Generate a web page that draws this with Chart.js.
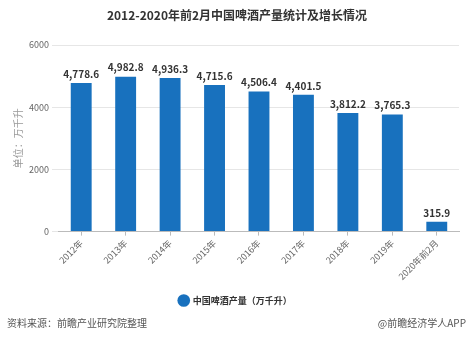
<!DOCTYPE html>
<html>
<head>
<meta charset="utf-8">
<script src="https://cdn.jsdelivr.net/npm/chart.js@4/dist/chart.umd.min.js"></script>
<style>
    body { margin: 0; background: #fff; }
    #wrap { position: relative; width: 474px; height: 340px; font-family: "Microsoft YaHei", "Noto Sans CJK SC", sans-serif; }
    #title { position: absolute; left: 0; top: 7px; width: 474px; text-align: center; font-size: 12px; font-weight: bold; color: #333; line-height: 16px; }
    .foot { position: absolute; top: 316px; font-size: 10px; color: #555; line-height: 14px; }
    #src { left: 7px; }
    #app { right: 8px; }
    canvas { position: absolute; left: 0; top: 0; }
</style>
</head>
<body>
<div id="wrap">
    <canvas id="chart" width="474" height="340"></canvas>
    <div id="title">2012-2020年前2月中国啤酒产量统计及增长情况</div>
    <div class="foot" id="src">资料来源：前瞻产业研究院整理</div>
    <div class="foot" id="app">@前瞻经济学人APP</div>
</div>
<script>
const LABELS = ['2012年', '2013年', '2014年', '2015年', '2016年', '2017年', '2018年', '2019年', '2020年前2月']
const OUTPUT = [4778.6, 4982.8, 4936.3, 4715.6, 4506.4, 4401.5, 3812.2, 3765.3, 315.9]
const SERIES_NAME = '中国啤酒产量（万千升）'
const Y_TITLE = '单位：万千升'

const FONT = '"Microsoft YaHei", "Noto Sans CJK SC", sans-serif'
const BAR_COLOR = '#1871be'

// 柱子上方的数值
const valueLabels = {
    id: 'valueLabels',
    afterDatasetsDraw: chart => {
        const ctx = chart.ctx
        const meta = chart.getDatasetMeta(0)
        ctx.save()
        ctx.font = `bold 10px ${FONT}`
        ctx.fillStyle = '#333'
        ctx.textAlign = 'center'
        ctx.textBaseline = 'bottom'
        meta.data.forEach((bar, i) => {
            const v = chart.data.datasets[0].data[i]
            const txt = v.toLocaleString('en-US', { minimumFractionDigits: 1, maximumFractionDigits: 1 })
            ctx.fillText(txt, bar.x, bar.y - 4)
        })
        ctx.restore()
    }
}

window.onload = _ => {
    const ctx = document.getElementById('chart').getContext('2d')
    new Chart(ctx, {
        type: 'bar',
        data: {
            labels: LABELS,
            datasets: [{
                label: SERIES_NAME,
                data: OUTPUT,
                backgroundColor: BAR_COLOR,
                borderWidth: 0,
                barPercentage: 0.94,
                categoryPercentage: 0.5
            }]
        },
        options: {
            responsive: false,
            animation: false,
            layout: { padding: { top: 45, left: 12, right: 15, bottom: 25 } },
            plugins: {
                legend: {
                    position: 'bottom',
                    labels: {
                        usePointStyle: true,
                        pointStyle: 'circle',
                        boxWidth: 9,
                        boxHeight: 9,
                        padding: 12,
                        color: '#333',
                        font: { family: FONT, size: 9, weight: 'bold' }
                    }
                },
                tooltip: { enabled: false }
            },
            scales: {
                x: {
                    grid: { display: true, offset: false, drawOnChartArea: false, drawTicks: true, tickLength: 4, color: '#bbb' },
                    border: { display: true, color: '#bbb' },
                    ticks: { color: '#666', font: { family: FONT, size: 9 }, minRotation: 45, maxRotation: 45, padding: 2 }
                },
                y: {
                    min: 0,
                    max: 6000,
                    grid: { color: '#e6e6e6', tickLength: 7 },
                    border: { display: false },
                    ticks: { stepSize: 2000, color: '#666', font: { family: FONT, size: 9 }, padding: 3, callback: v => String(v) },
                    title: { display: true, text: Y_TITLE, color: '#999', font: { family: FONT, size: 10 }, padding: { top: 0, bottom: 2 } }
                }
            }
        },
        plugins: [valueLabels]
    })
}
</script>
</body>
</html>
